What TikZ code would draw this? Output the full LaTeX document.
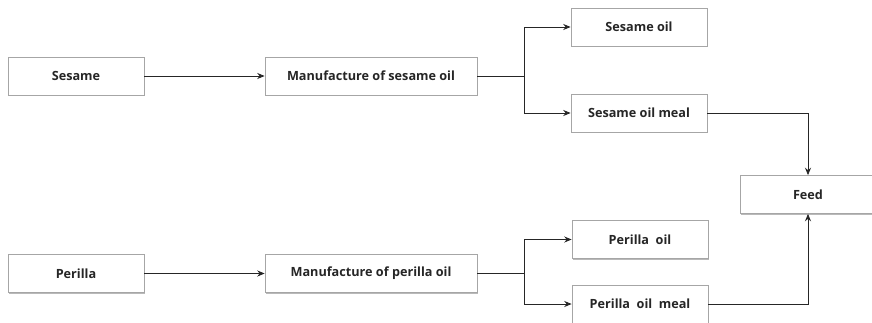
\documentclass[tikz,border=0pt]{standalone}
\usepackage{fontspec}
\setmainfont{Open Sans}
\usetikzlibrary{positioning, arrows.meta, shadows}

\begin{document}
\begin{tikzpicture}[
	x=0.75pt,
	y=0.75pt,
	every box/.style={rectangle, draw=gray!70, fill=white, line width=0.6pt,
		minimum width=102pt, minimum height=28.5pt, inner sep=0pt,
		font=\fontsize{9.5}{11}\selectfont\bfseries, text=black!85,
		drop shadow={shadow xshift=0.9pt, shadow yshift=-0.9pt, fill=gray!55, opacity=1}},
	wide box/.style={minimum width=159pt},
	link/.style={draw=black!85, line width=0.6pt},
	>={Stealth[length=5.5pt, width=4.5pt]}
]

\clip (0,0) rectangle (872,-322);
\fill [white] (0,0) rectangle (872,-322);

% sources
\node [every box] (sesame) at (76,-76) {Sesame};
\node [every box] (perilla) at (76,-273.5) {Perilla};

% processing
\node [every box, wide box] (mfg-sesame) at (371,-76) {Manufacture of sesame oil};
\node [every box, wide box] (mfg-perilla) at (371,-273.5) {Manufacture of perilla oil};

% products
\node [every box] (sesame-oil) at (639,-27) {Sesame oil};
\node [every box] (sesame-meal) at (639,-113) {Sesame oil meal};
\node [every box] (perilla-oil) at (640,-239.5) {Perilla~ oil};
\node [every box] (perilla-meal) at (640,-304) {Perilla~ oil~ meal};

\node [every box] (feed) at (808,-194.5) {Feed};

\coordinate (sesame-split) at (524,-76);
\coordinate (perilla-split) at (524,-273.5);

\foreach \s in {sesame, perilla} {
	\draw [link, ->] (\s) -- (mfg-\s);
	\draw [link] (mfg-\s) -- (\s-split);
	\draw [link, ->] (\s-split) |- (\s-oil);
	\draw [link, ->] (\s-split) |- (\s-meal);
}

\draw [link, ->] (sesame-meal) -| (feed);
\draw [link, ->] (perilla-meal) -| (feed);

\end{tikzpicture}
\end{document}
